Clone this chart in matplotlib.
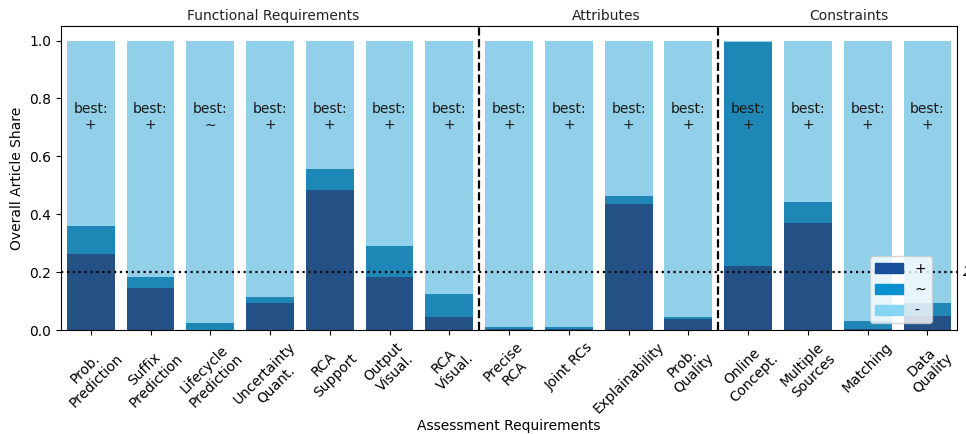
import matplotlib.pyplot as plt
from matplotlib.patches import Patch
import numpy as np

requirements = ['Prob.\nPrediction', 'Suffix\nPrediction', 'Lifecycle\nPrediction',
                'Uncertainty\nQuant.', 'RCA\nSupport', 'Output\nVisual.', 'RCA\nVisual.',
                'Precise\nRCA', 'Joint RCs', 'Explainability', 'Prob.\nQuality',
                'Online\nConcept.', 'Multiple\nSources', 'Matching', 'Data\nQuality']
share_plus = [0.261, 0.146, 0.0, 0.092, 0.484, 0.183, 0.046,
              0.004, 0.004, 0.436, 0.039, 0.220, 0.371, 0.003, 0.049]
share_tilde = [0.099, 0.037, 0.024, 0.022, 0.073, 0.107, 0.080,
               0.006, 0.006, 0.027, 0.007, 0.774, 0.070, 0.028, 0.045]
best = ['+', '+', '~', '+', '+', '+', '+', '+', '+', '+', '+', '+', '+', '+', '+']
groups = ['Functional Requirements', 'Attributes', 'Constraints']
group_label_x = [3.05, 8.63, 12.68]
group_borders = [6.5, 10.5]
threshold = 0.2

plus = np.array(share_plus)
tilde = np.array(share_tilde)
minus = 1.0 - plus - tilde
x = np.arange(len(requirements))

c_plus, c_tilde, c_minus = '#245185', '#1f87b6', '#92cfe8'

fig = plt.figure(figsize=(9.66, 4.34), dpi=100)
ax = fig.add_axes([0.063, 0.2396, 0.928, 0.7004])

ax.bar(x, plus, width=0.8, color=c_plus, linewidth=0)
ax.bar(x, tilde, width=0.8, bottom=plus, color=c_tilde, linewidth=0)
ax.bar(x, minus, width=0.8, bottom=plus + tilde, color=c_minus, linewidth=0)

for i, b in enumerate(best):
    ax.text(x[i], 0.735, 'best:\n' + b, ha='center', va='center', fontsize=10, color='#1a1a1a')

for b in group_borders:
    ax.axvline(b, color='black', ls='--', lw=1.6)
ax.axhline(threshold, color='black', ls=':', lw=1.6)
ax.text(14.6, threshold, '20%', va='center', ha='left', style='italic', fontsize=10)

for g, gx in zip(groups, group_label_x):
    ax.text(gx, 1.062, g, ha='center', va='bottom', fontsize=10, color='#222222')

ax.set_xlim(-0.5, 14.5)
ax.set_ylim(0, 1.05)
ax.set_xticks(x)
ax.set_xticklabels(requirements, rotation=45, ha='center')
ax.set_xlabel('Assessment Requirements', labelpad=0)
ax.set_ylabel('Overall Article Share')

handles = [Patch(color='#174f9a'), Patch(color='#0890d0'), Patch(color='#87d4f4')]
ax.legend(handles, ['+', '~', '-'], loc='lower right', bbox_to_anchor=(0.979, 0.0))

fig.savefig('out.png', dpi=100)
